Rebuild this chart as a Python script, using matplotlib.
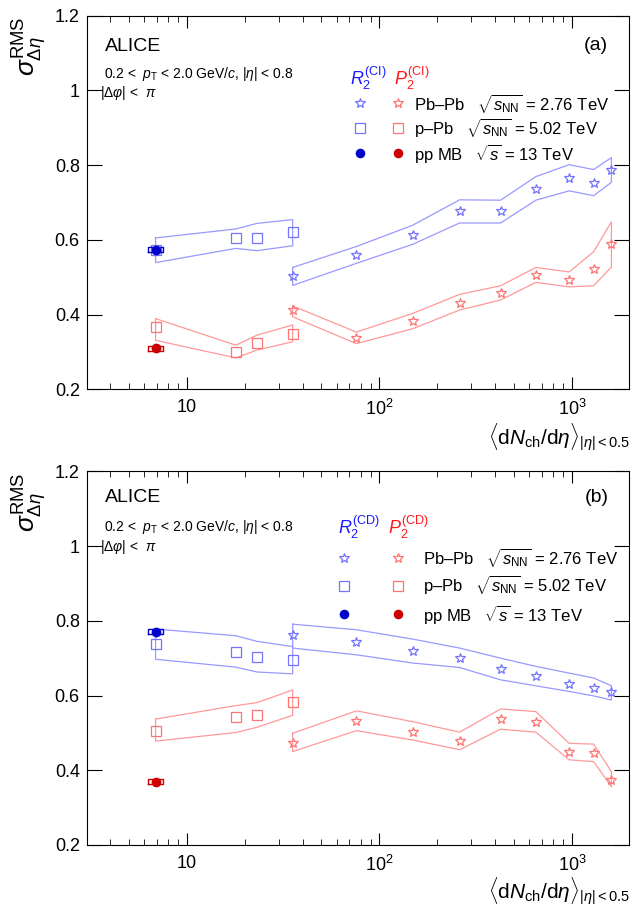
import matplotlib
matplotlib.use("Agg")
import matplotlib.pyplot as plt
import numpy as np
from matplotlib.ticker import FixedLocator, FixedFormatter, LogLocator, NullFormatter

plt.rcParams["font.family"] = ["Liberation Sans", "DejaVu Sans"]
plt.rcParams["mathtext.fontset"] = "custom"
plt.rcParams["mathtext.rm"] = "Liberation Sans"
plt.rcParams["mathtext.it"] = "Liberation Sans:italic"
plt.rcParams["mathtext.bf"] = "Liberation Sans:bold"

# multiplicity <dNch/deta>
x_pbpb = [35.5, 76, 149, 261, 426, 649, 966, 1294, 1601]
x_ppb = [6.9, 18.0, 23.2, 35.5]
x_pp = 6.9

# panel (a): CI
r2ci_pbpb = [0.503, 0.560, 0.614, 0.676, 0.676, 0.736, 0.765, 0.753, 0.788]
r2ci_pbpb_hi = [0.526, 0.582, 0.639, 0.707, 0.706, 0.769, 0.801, 0.788, 0.820]
r2ci_pbpb_lo = [0.478, 0.537, 0.588, 0.645, 0.645, 0.706, 0.731, 0.718, 0.754]
p2ci_pbpb = [0.412, 0.336, 0.383, 0.432, 0.458, 0.505, 0.492, 0.521, 0.588]
p2ci_pbpb_hi = [0.423, 0.353, 0.403, 0.454, 0.477, 0.526, 0.514, 0.568, 0.648]
p2ci_pbpb_lo = [0.394, 0.322, 0.362, 0.412, 0.439, 0.486, 0.474, 0.477, 0.527]
r2ci_ppb = [0.572, 0.604, 0.606, 0.620]
r2ci_ppb_hi = [0.605, 0.629, 0.644, 0.654]
r2ci_ppb_lo = [0.539, 0.577, 0.571, 0.584]
p2ci_ppb = [0.367, 0.300, 0.324, 0.348]
p2ci_ppb_hi = [0.389, 0.318, 0.345, 0.372]
p2ci_ppb_lo = [0.331, 0.284, 0.305, 0.327]
r2ci_pp = 0.574
p2ci_pp = 0.310

# panel (b): CD
r2cd_pbpb = [0.763, 0.742, 0.718, 0.700, 0.671, 0.651, 0.631, 0.620, 0.610]
r2cd_pbpb_hi = [0.791, 0.776, 0.751, 0.727, 0.700, 0.678, 0.660, 0.647, 0.626]
r2cd_pbpb_lo = [0.727, 0.709, 0.687, 0.675, 0.642, 0.626, 0.611, 0.599, 0.588]
p2cd_pbpb = [0.474, 0.532, 0.503, 0.477, 0.537, 0.528, 0.450, 0.446, 0.374]
p2cd_pbpb_hi = [0.499, 0.559, 0.530, 0.502, 0.564, 0.557, 0.472, 0.470, 0.396]
p2cd_pbpb_lo = [0.450, 0.506, 0.481, 0.455, 0.510, 0.502, 0.428, 0.423, 0.356]
r2cd_ppb = [0.739, 0.717, 0.704, 0.694]
r2cd_ppb_hi = [0.778, 0.760, 0.745, 0.731]
r2cd_ppb_lo = [0.697, 0.676, 0.663, 0.658]
p2cd_ppb = [0.506, 0.543, 0.548, 0.582]
p2cd_ppb_hi = [0.537, 0.573, 0.581, 0.615]
p2cd_ppb_lo = [0.478, 0.501, 0.515, 0.547]
r2cd_pp = 0.771
p2cd_pp = 0.369

pp_syst_y = 0.007  # half height of pp syst box
pp_syst_x = 1.09   # relative half width of pp syst box

BLUE_MK, BLUE_BAND, BLUE_PP = "#7373ff", "#9999ff", "#0000cc"
RED_MK, RED_BAND, RED_PP = "#ff7373", "#ff9999", "#cc0000"

fig = plt.figure(figsize=(6.31, 9.08), dpi=100)
ax_a = fig.add_axes([0.1374, 0.5713, 0.8594, 0.4115])
ax_b = fig.add_axes([0.1374, 0.0694, 0.8594, 0.4115])


def band(ax, x, hi, lo, color):
    xs = list(x) + list(x[::-1]) + [x[0]]
    ys = list(hi) + list(lo[::-1]) + [hi[0]]
    ax.plot(xs, ys, color=color, lw=0.9)


def pp_point(ax, y, color):
    x0, x1 = x_pp / pp_syst_x, x_pp * pp_syst_x
    ax.plot([x0, x1, x1, x0, x0],
            [y - pp_syst_y, y - pp_syst_y, y + pp_syst_y, y + pp_syst_y, y - pp_syst_y],
            color=color, lw=1.0)
    ax.plot([x_pp], [y], "o", color=color, ms=6)


panels = [
    (ax_a, "CI", "(a)",
     (r2ci_pbpb, r2ci_pbpb_hi, r2ci_pbpb_lo), (p2ci_pbpb, p2ci_pbpb_hi, p2ci_pbpb_lo),
     (r2ci_ppb, r2ci_ppb_hi, r2ci_ppb_lo), (p2ci_ppb, p2ci_ppb_hi, p2ci_ppb_lo),
     r2ci_pp, p2ci_pp),
    (ax_b, "CD", "(b)",
     (r2cd_pbpb, r2cd_pbpb_hi, r2cd_pbpb_lo), (p2cd_pbpb, p2cd_pbpb_hi, p2cd_pbpb_lo),
     (r2cd_ppb, r2cd_ppb_hi, r2cd_ppb_lo), (p2cd_ppb, p2cd_ppb_hi, p2cd_ppb_lo),
     r2cd_pp, p2cd_pp),
]

for ax, tag, letter, r2_pbpb, p2_pbpb, r2_ppb, p2_ppb, r2_pp, p2_pp in panels:
    ax.set_xscale("log")
    ax.set_xlim(3.03, 1975)
    ax.set_ylim(0.2, 1.2)

    # systematic bands
    band(ax, x_pbpb, r2_pbpb[1], r2_pbpb[2], BLUE_BAND)
    band(ax, x_pbpb, p2_pbpb[1], p2_pbpb[2], RED_BAND)
    band(ax, x_ppb, r2_ppb[1], r2_ppb[2], BLUE_BAND)
    band(ax, x_ppb, p2_ppb[1], p2_ppb[2], RED_BAND)

    # points
    ax.plot(x_pbpb, r2_pbpb[0], "*", ms=7.5, mfc="none", mec=BLUE_MK, mew=0.9, ls="none")
    ax.plot(x_pbpb, p2_pbpb[0], "*", ms=7.5, mfc="none", mec=RED_MK, mew=0.9, ls="none")
    ax.plot(x_ppb, r2_ppb[0], "s", ms=6.5, mfc="none", mec=BLUE_MK, mew=0.9, ls="none")
    ax.plot(x_ppb, p2_ppb[0], "s", ms=6.5, mfc="none", mec=RED_MK, mew=0.9, ls="none")
    pp_point(ax, r2_pp, BLUE_PP)
    pp_point(ax, p2_pp, RED_PP)

    # axes style
    ax.xaxis.set_major_locator(FixedLocator([10, 100, 1000]))
    ax.xaxis.set_major_formatter(FixedFormatter(["10", "$10^{2}$", "$10^{3}$"]))
    ax.xaxis.set_minor_locator(LogLocator(base=10, subs=np.arange(2, 10), numticks=20))
    ax.xaxis.set_minor_formatter(NullFormatter())
    ax.set_yticks([0.2, 0.4, 0.6, 0.8, 1.0, 1.2])
    ax.set_yticklabels(["0.2", "0.4", "0.6", "0.8", "1", "1.2"])
    ax.tick_params(axis="both", which="both", direction="in", top=True, right=True,
                   labelsize=13)
    ax.tick_params(axis="x", which="major", length=8.5, pad=7)
    ax.tick_params(axis="x", which="minor", length=4.2)
    ax.tick_params(axis="y", which="major", length=10.5, pad=5)

    ax.text(0.034, 0.918 if tag == "CI" else 0.929, "ALICE", transform=ax.transAxes,
            fontsize=14, va="center", ha="left")
    ax.text(0.962, 0.921 if tag == "CI" else 0.929, letter, transform=ax.transAxes,
            fontsize=14, va="center", ha="right")
    ax.text(0.032, 0.844 if tag == "CI" else 0.851,
            r"0.2 <  $p_{\mathrm{T}}$ < 2.0 GeV/$c$, $|\eta|$ < 0.8",
            transform=ax.transAxes, fontsize=10, va="center", ha="left")
    ax.text(0.025, 0.794 if tag == "CI" else 0.797,
            r"$|\Delta\varphi|$ <  $\pi$", transform=ax.transAxes,
            fontsize=10, va="center", ha="left")

    # legend
    if tag == "CI":
        lx_r2, lx_p2, ly_lab = 0.486, 0.566, 0.833
        col_b, col_r, col_t = 0.504, 0.574, 0.604
        rows = [0.766, 0.699, 0.632]
    else:
        lx_r2, lx_p2, ly_lab = 0.463, 0.556, 0.849
        col_b, col_r, col_t = 0.474, 0.574, 0.620
        rows = [0.769, 0.694, 0.618]
    ax.text(lx_r2, ly_lab, r"$R_{2}^{(\mathrm{%s})}$" % tag, color="#1a1aff",
            transform=ax.transAxes, fontsize=13, va="center", ha="left")
    ax.text(lx_p2, ly_lab, r"$P_{2}^{(\mathrm{%s})}$" % tag, color="#ff1a1a",
            transform=ax.transAxes, fontsize=13, va="center", ha="left")
    legend_rows = [
        ("*", 7.5, "none", BLUE_MK, RED_MK,
         r"Pb–Pb   $\sqrt{s_{\mathrm{NN}}}$ = 2.76 TeV"),
        ("s", 6.5, "none", BLUE_MK, RED_MK,
         r"p–Pb   $\sqrt{s_{\mathrm{NN}}}$ = 5.02 TeV"),
        ("o", 6, None, BLUE_PP, RED_PP,
         r"pp MB   $\sqrt{s}$ = 13 TeV"),
    ]
    for (mk, ms, fc, cb, cr, label), yy in zip(legend_rows, rows):
        ax.plot([col_b], [yy], mk, ms=ms, mec=cb, mfc=cb if fc is None else "none",
                mew=0.9, transform=ax.transAxes)
        ax.plot([col_r], [yy], mk, ms=ms, mec=cr, mfc=cr if fc is None else "none",
                mew=0.9, transform=ax.transAxes)
        ax.text(col_t, yy, label, transform=ax.transAxes, fontsize=12,
                va="center", ha="left")

# axis titles
ylab = r"$\sigma^{\mathrm{RMS}}_{\Delta\eta}$"
xlab = r"$\langle \mathrm{d}N_{\mathrm{ch}}/\mathrm{d}\eta\rangle_{|\eta|<0.5}$"
fig.text(0.047, 0.981, ylab, rotation=90, fontsize=19, ha="center", va="top")
fig.text(0.047, 0.479, ylab, rotation=90, fontsize=19, ha="center", va="top")
fig.text(0.999, 0.519, xlab, fontsize=15, ha="right", va="center")
fig.text(0.999, 0.019, xlab, fontsize=15, ha="right", va="center")

fig.savefig("out.png", dpi=100)
